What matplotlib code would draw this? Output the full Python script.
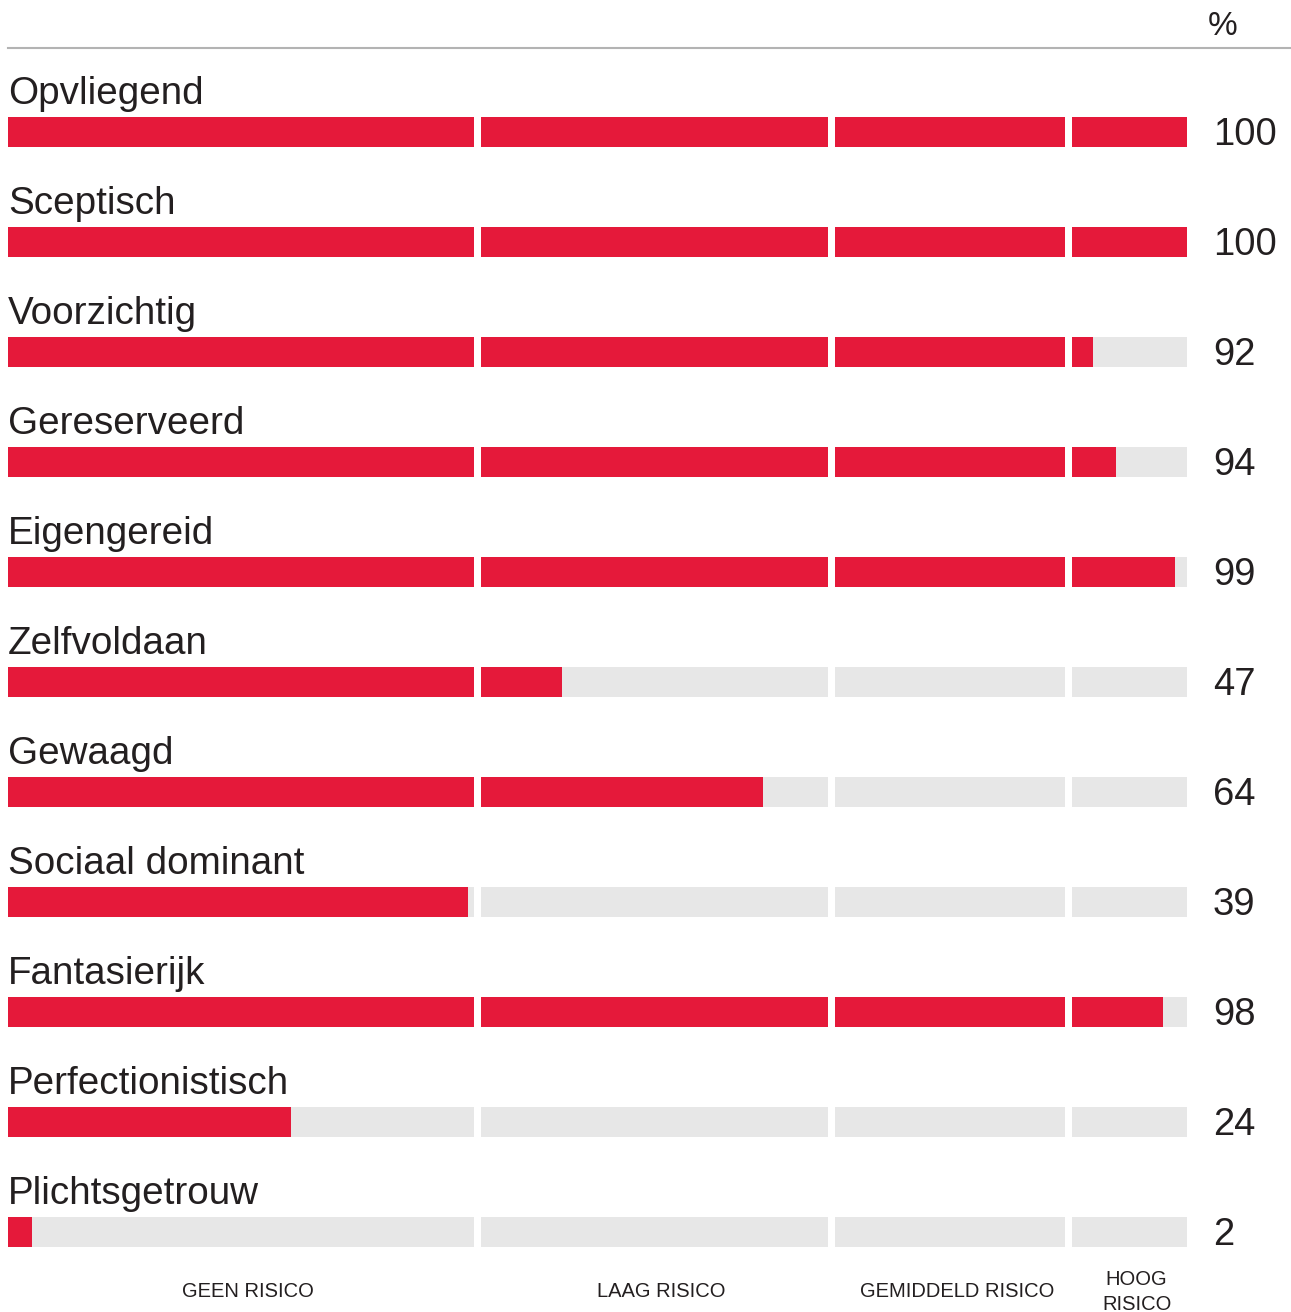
import matplotlib
matplotlib.use("Agg")
import matplotlib.pyplot as plt

# traits and their percentage score
labels = ["Opvliegend", "Sceptisch", "Voorzichtig", "Gereserveerd", "Eigengereid",
          "Zelfvoldaan", "Gewaagd", "Sociaal dominant", "Fantasierijk",
          "Perfectionistisch", "Plichtsgetrouw"]
values = [100, 100, 92, 94, 99, 47, 64, 39, 98, 24, 2]

# risk zones (start, end) on the 0-100 scale, with small white gaps between them
zone_names = ["GEEN RISICO", "LAAG RISICO", "GEMIDDELD RISICO", "HOOG\nRISICO"]
zones = [(0, 39.5), (40.1, 69.55), (70.15, 89.65), (90.25, 100)]

RED = "#e5193a"
GREY = "#e7e7e7"
TXT = "#231f20"

plt.rcParams["font.family"] = ["Liberation Sans", "DejaVu Sans"]

W, H = 1291, 1312
fig = plt.figure(figsize=(W / 100, H / 100), dpi=100)
ax = fig.add_axes([0, 0, 1, 1])

px = 1179 / 100.0        # pixels per percent
row = 110.0              # pixels per row
ax.set_xlim(-8 / px, (W - 8) / px)
ax.set_ylim((H - 132) / row, -132 / row)
ax.axis("off")

bar_h = 30 / row
for i, (lab, v) in enumerate(zip(labels, values)):
    for a, b in zones:
        ax.barh(i, b - a, left=a, height=bar_h, color=GREY, linewidth=0)
        if v > a:
            ax.barh(i, min(v, b) - a, left=a, height=bar_h, color=RED, linewidth=0)
    ax.text(0, i - 28 / row, lab, fontsize=27.8, color=TXT, ha="left", va="baseline")
    ax.text(102.2, i + 13 / row, str(v), fontsize=27.5, color=TXT, ha="left", va="baseline")

# header line and % sign
ax.plot([0, (1290 - 8) / px], [-84 / row, -84 / row], color="#b3b3b3", lw=1.5)
ax.text((1223 - 8) / px, -97 / row, "%", fontsize=24, color=TXT, ha="center",
        va="baseline")

# zone names under the bars
last = len(labels) - 1
for (a, b), name in zip(zones, zone_names):
    mid = (a + b) / 2 + 0.6
    if "\n" in name:
        ax.text(mid, last + 60 / row, name, fontsize=14.5, color=TXT, ha="center",
                va="center", linespacing=1.4)
    else:
        ax.text(mid, last + 65 / row, name, fontsize=14.5, color=TXT, ha="center",
                va="baseline")

fig.savefig("out.png", dpi=100)
